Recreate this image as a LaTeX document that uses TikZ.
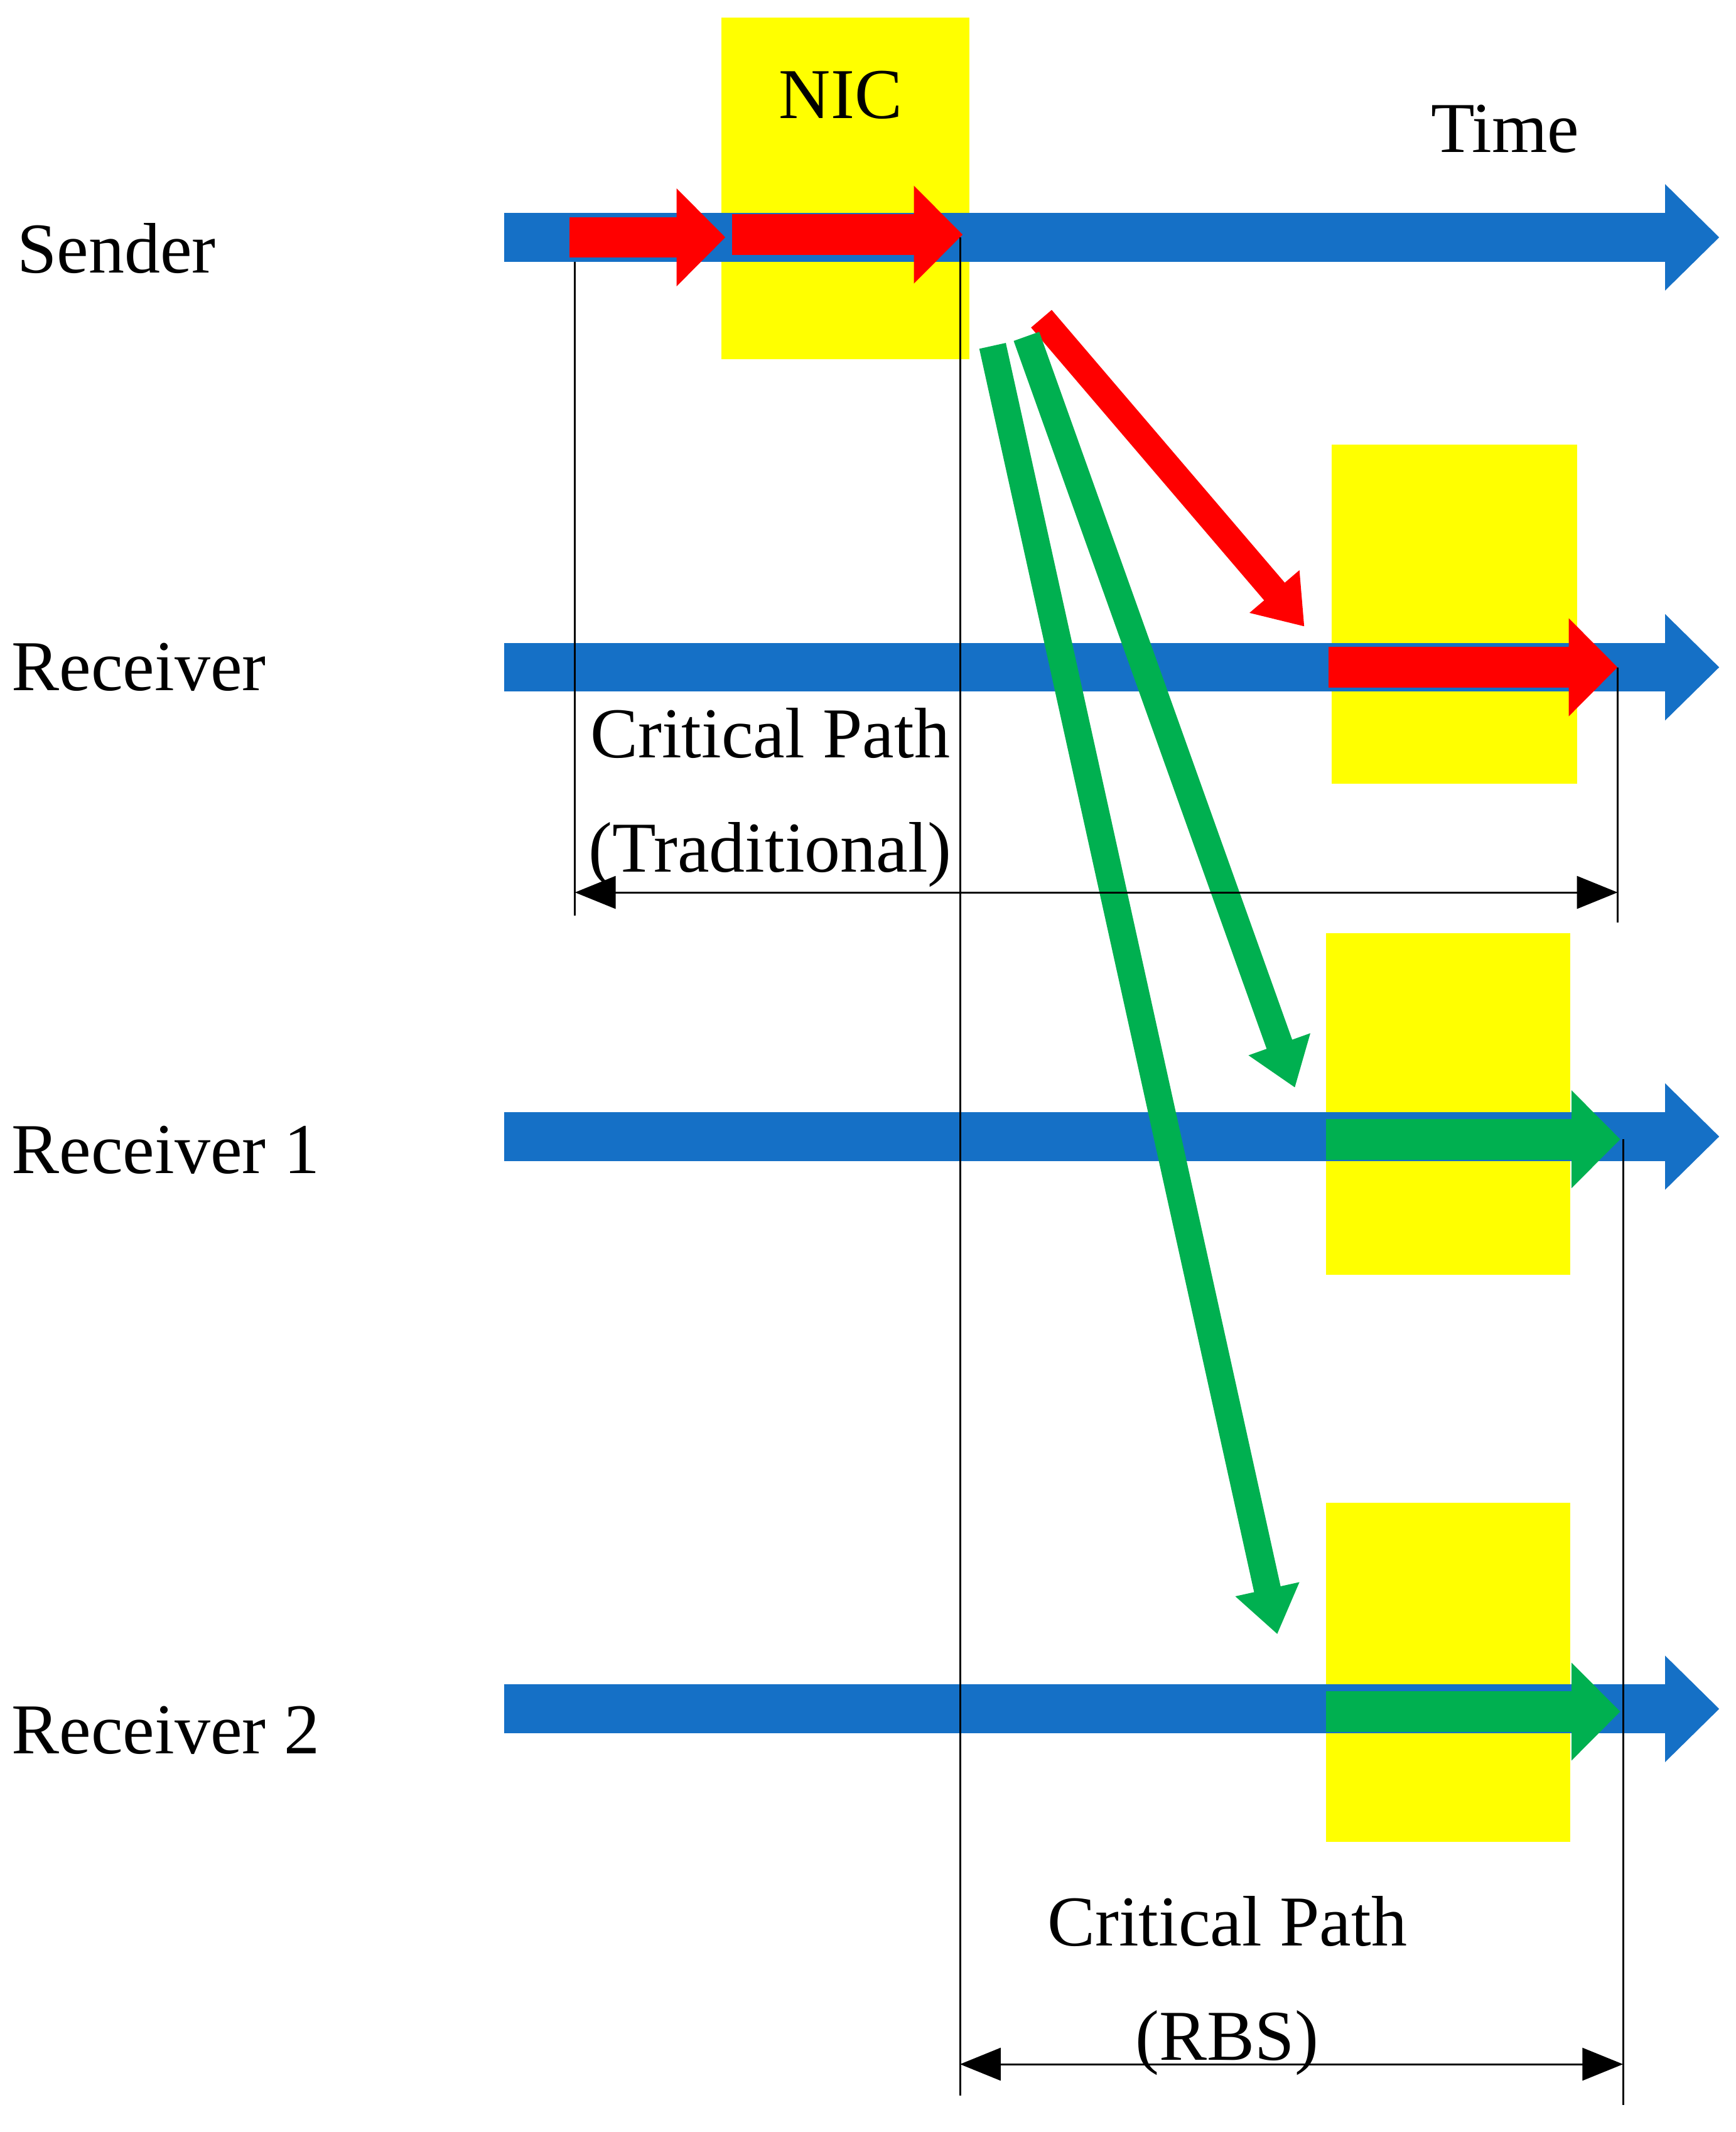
\documentclass[tikz,border=0pt]{standalone}
\usepackage{fontspec}
\setmainfont{Liberation Serif}
\usetikzlibrary{arrows.meta}
\definecolor{tblue}{RGB}{21,112,198}
\definecolor{tred}{RGB}{255,0,0}
\definecolor{tgreen}{RGB}{0,176,80}
\definecolor{tyel}{RGB}{255,255,0}
\begin{document}
\begin{tikzpicture}[x=0.01cm,y=-0.01cm,
  lbl/.style={font=\fontsize{15}{18}\selectfont,inner sep=0pt},
  nic/.style={fill=tyel,draw=none},
  line/.style={-{Triangle[length=4mm,width=7.6mm]},line width=3.6mm,tblue},
  pkt/.style={-{Triangle[length=3.6mm,width=7mm]},line width=3mm,tred},
  ok/.style={-{Triangle[length=3.6mm,width=7mm]},line width=3mm,tgreen},
  diag/.style={-{Triangle[length=3.4mm,width=4.6mm]},line width=2mm},
  dim/.style={{Triangle[length=3mm,width=2.4mm]}-{Triangle[length=3mm,width=2.4mm]},thin}]
\useasboundingbox (0,0) rectangle (1280,1572);
% yellow boxes
\fill[nic] (532,13) rectangle (715,265);
\fill[nic] (982,328) rectangle (1163,578);
\fill[nic] (978,688) rectangle (1158,940);
\fill[nic] (978,1108) rectangle (1158,1358);
% time lines
\coordinate (s0) at (372,175); \coordinate (s1) at (1268,175);
\coordinate (r0) at (372,492); \coordinate (r1) at (1268,492);
\coordinate (a0) at (372,838); \coordinate (a1) at (1268,838);
\coordinate (b0) at (372,1260); \coordinate (b1) at (1268,1260);
\foreach \p in {s,r,a,b} \draw[line] (\p0) -- (\p1);
% packets
\draw[pkt] (420,175) -- (535,175);
\draw[pkt] (540,173) -- (710,173);
\draw[pkt] (980,492) -- (1193,492);
\draw[ok] (978,840) -- (1195,840);
\draw[ok] (978,1262) -- (1195,1262);
% transfers
\draw[diag,tred] (768,235) -- (962,462);
\draw[diag,tgreen] (757,248) -- (955,802);
\draw[diag,tgreen] (732,255) -- (942,1205);
% markers
\draw[thin] (424,193) -- (424,675);
\draw[thin] (708,175) -- (708,1545);
\draw[thin] (1193,492) -- (1193,680);
\draw[thin] (1197,840) -- (1197,1552);
\draw[dim] (424,658) -- (1193,658);
\draw[dim] (708,1522) -- (1197,1522);
% labels
\node[lbl] (nicl) at (620,70) {NIC};
\node[lbl] (time) at (1110,95) {Time};
\node[lbl,anchor=west] (snd) at (12,183) {Sender};
\node[lbl,anchor=west] (rcv) at (8,492) {Receiver};
\node[lbl,anchor=west] (rc1) at (8,848) {Receiver 1};
\node[lbl,anchor=west] (rc2) at (8,1276) {Receiver 2};
\node[lbl,align=center] (cpt) at (568,588) {Critical Path\\[6pt](Traditional)};
\node[lbl,align=center] (cpr) at (905,1464) {Critical Path\\[6pt](RBS)};
\end{tikzpicture}
\end{document}
